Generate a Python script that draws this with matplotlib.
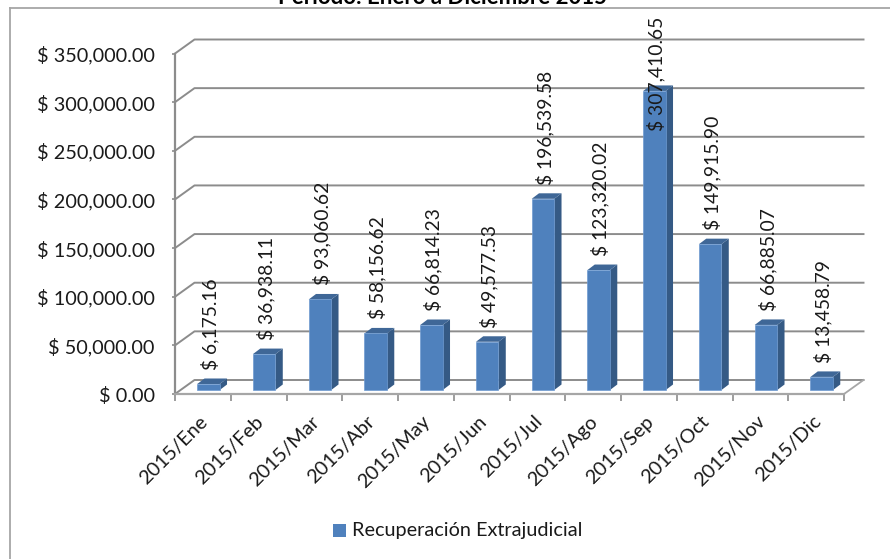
import matplotlib
matplotlib.use("Agg")
import matplotlib.pyplot as plt
from matplotlib.patches import Polygon, Rectangle
from matplotlib.transforms import Affine2D

months = ["2015/Ene","2015/Feb","2015/Mar","2015/Abr","2015/May","2015/Jun",
          "2015/Jul","2015/Ago","2015/Sep","2015/Oct","2015/Nov","2015/Dic"]
values = [6175.16,36938.11,93060.62,58156.62,66814.23,49577.53,
          196539.58,123320.02,307410.65,149915.90,66885.07,13458.79]
yticks = [0,50000,100000,150000,200000,250000,300000,350000]
series_name = "Recuperación Extrajudicial"
title = "Período: Enero a Diciembre 2015"

W, H = 890, 559
plt.rcParams['font.family'] = ['Lato', 'DejaVu Sans']
FS = 14.3
fig = plt.figure(figsize=(W/100, H/100), dpi=100)
fig.patch.set_facecolor('white')

L, R, T, B = 175, 844, 53.5, 394
ax = fig.add_axes([L/W, 1-B/H, (R-L)/W, (B-T)/H])
ax.set_xlim(0, 12)
ax.set_ylim(0, 350000)
ax.patch.set_visible(False)
for s in ax.spines.values():
    s.set_visible(False)

GRID = '#8c8c8c'
DX, DY = 19.5, 14.0     # wall depth in px
unit_x = (R-L)/12
unit_y = (B-T)/350000
dx_w = DX/unit_x
dy_w = DY/unit_y

# frame
fig.add_artist(plt.Line2D([10/W, 10/W], [0, 1-8/H], color='#a6a6a6', lw=1.3))
fig.add_artist(plt.Line2D([10/W, 1], [1-8/H, 1-8/H], color='#a6a6a6', lw=1.3))

# walls and grid
for v in yticks:
    ax.plot([0, dx_w, 12+dx_w], [v, v+dy_w, v+dy_w], color=GRID, lw=1.4, clip_on=False, zorder=1)
ax.plot([0, 0], [0, 350000], color=GRID, lw=1.6, clip_on=False, zorder=2)
ax.plot([0, 12], [0, 0], color='#a6a6a6', lw=1.6, clip_on=False, zorder=2)
ax.plot([12, 12+dx_w], [0, dy_w], color='#a6a6a6', lw=1.3, clip_on=False, zorder=2)

ax.set_xticks(range(13))
ax.set_xticklabels([])
ax.set_yticks(yticks)
ax.set_yticklabels([f"$ {v:,.2f}" for v in yticks], fontsize=FS, color='#1a1a1a')
ax.tick_params(axis='y', length=2, width=1.2, color=GRID, pad=12.5)
ax.tick_params(axis='x', length=5, width=1.2, color=GRID, direction='out')

# 3D bars
px = ax.transData + Affine2D().translate(5.6, 4.0)
FRONT, SIDE, TOP = '#4f81bd', '#355a85', '#3f6797'
bw = 22.5/unit_x
ddx = 7.3/unit_x
ddy = 5.5/unit_y
xs = [i+0.5 for i in range(len(values))]
ax.bar(xs, values, width=bw, color=FRONT, edgecolor='#6f9bd1', linewidth=0.5,
       transform=px, zorder=4, clip_on=False)
for x, v in zip(xs, values):
    r = x+bw/2; l = x-bw/2
    ax.add_patch(Polygon([(r, 0), (r+ddx, ddy), (r+ddx, v+ddy), (r, v)],
                         facecolor=SIDE, edgecolor='none', transform=px, zorder=3, clip_on=False))
    ax.add_patch(Polygon([(l, v), (l+ddx, v+ddy), (r+ddx, v+ddy), (r, v)],
                         facecolor=TOP, edgecolor='none', transform=px, zorder=3, clip_on=False))

# value labels
for i, (x, v) in enumerate(zip(xs, values)):
    off = -40 if i == 8 else 14
    ax.annotate(f"$ {v:,.2f}", xy=(x, v), xycoords=px, xytext=(1.2, off*0.72),
                textcoords='offset points', rotation=90, ha='center', va='bottom',
                fontsize=13.9, color='#1a1a1a', zorder=6, annotation_clip=False)

# category labels
for i, m in enumerate(months):
    ax.annotate(m, xy=(i+0.5, 0), xycoords='data', xytext=(-3, -13.5),
                textcoords='offset points', rotation=45, rotation_mode='anchor',
                ha='right', va='top', fontsize=FS, color='#1a1a1a', annotation_clip=False)

# legend
fig.add_artist(Rectangle((333/W, 1-537/H), 13/W, 13/H, facecolor=FRONT, edgecolor='none',
                         transform=fig.transFigure))
fig.text(352/W, 1-530.5/H, series_name, fontsize=FS, va='center', ha='left', color='#1a1a1a')

# title
fig.text(442/W, 1-3.5/H, title, fontsize=16, fontweight='bold', va='baseline', ha='center', color='black')

fig.savefig('out.png', dpi=100)
